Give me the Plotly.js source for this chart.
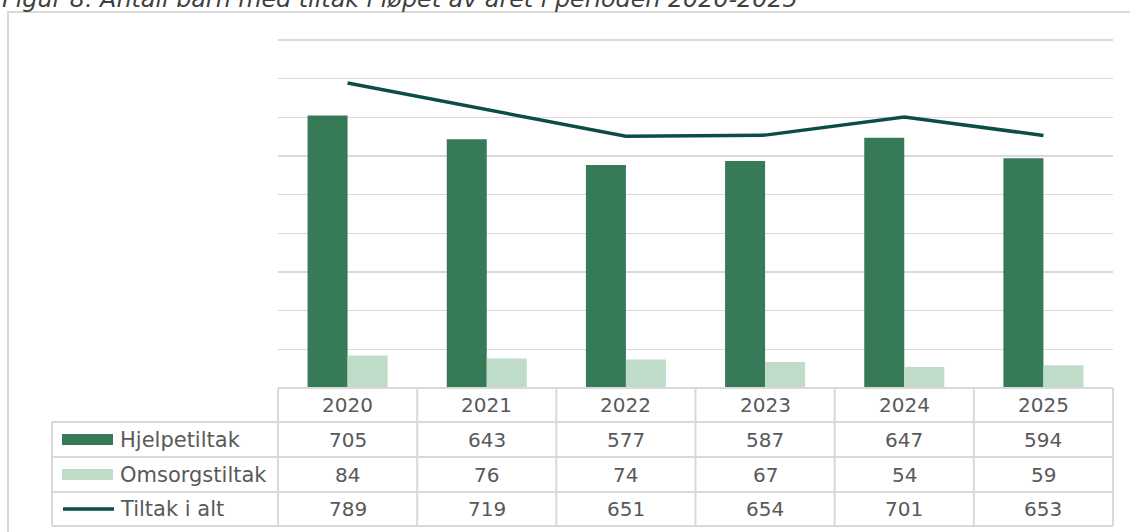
<!DOCTYPE html>
<html>
<head>
<meta charset="utf-8">
<script src="https://cdn.plot.ly/plotly-3.0.1.min.js"></script>
<style>
html,body{margin:0;padding:0;background:#fff;}
#chart{width:1130px;height:532px;}
</style>
</head>
<body>
<div id="chart"></div>
<script>
const years = ['2020', '2021', '2022', '2023', '2024', '2025'];
const hjelpetiltak = [705, 643, 577, 587, 647, 594];
const omsorgstiltak = [84, 76, 74, 67, 54, 59];
const tiltakIAlt = [789, 719, 651, 654, 701, 653];
const seriesNames = ['Hjelpetiltak', 'Omsorgstiltak', 'Tiltak i alt'];
const titleText = 'Figur 8. Antall barn med tiltak i løpet av året i perioden 2020-2025';

const W = 1130, H = 532;
const px = x => x / W;
const py = y => 1 - y / H;

const C_DARK = '#377a57';
const C_LIGHT = '#bfdcc9';
const C_LINE = '#0c4e46';
const C_GRID = '#d9d9d9';
const C_TEXT = '#595959';
const FONT = 'DejaVu Sans';

// Plot geometry (pixels)
const plotL = 278, plotR = 1113, plotB = 388;
const yMax = 904;                 // axis top slightly above 900 so the 900 gridline is drawn
const pxPerUnit = (388 - 40) / 900;
const plotT = plotB - yMax * pxPerUnit;
const rowEdges = [388, 422, 457, 492, 526];
const labelL = 52;
const colW = (plotR - plotL) / years.length;

const traces = [
  {type: 'bar', name: seriesNames[0], x: years, y: hjelpetiltak, marker: {color: C_DARK}},
  {type: 'bar', name: seriesNames[1], x: years, y: omsorgstiltak, marker: {color: C_LIGHT}},
  {type: 'scatter', mode: 'lines', name: seriesNames[2], x: years, y: tiltakIAlt, line: {color: C_LINE, width: 3.5}}
];

const shapes = [];
const annotations = [];

// outer frame
shapes.push({type: 'rect', xref: 'paper', yref: 'paper', x0: px(8), x1: px(1140), y0: py(12), y1: py(545),
  line: {color: C_GRID, width: 2}, fillcolor: 'rgba(0,0,0,0)', layer: 'below'});

// table horizontal lines
shapes.push({type: 'line', xref: 'paper', yref: 'paper', x0: px(plotL), x1: px(plotR), y0: py(rowEdges[0]), y1: py(rowEdges[0]), line: {color: C_GRID, width: 2}});
for (let i = 1; i < rowEdges.length; i++) {
  shapes.push({type: 'line', xref: 'paper', yref: 'paper', x0: px(labelL), x1: px(plotR), y0: py(rowEdges[i]), y1: py(rowEdges[i]), line: {color: C_GRID, width: 2}});
}
// table vertical lines
for (let c = 0; c <= years.length; c++) {
  const xx = plotL + c * colW;
  shapes.push({type: 'line', xref: 'paper', yref: 'paper', x0: px(xx), x1: px(xx), y0: py(rowEdges[0]), y1: py(rowEdges[4]), line: {color: C_GRID, width: 2}});
}
shapes.push({type: 'line', xref: 'paper', yref: 'paper', x0: px(labelL), x1: px(labelL), y0: py(rowEdges[1]), y1: py(rowEdges[4]), line: {color: C_GRID, width: 2}});

// header years and values
const rowsData = [hjelpetiltak, omsorgstiltak, tiltakIAlt];
years.forEach((yr, c) => {
  const cx = plotL + (c + 0.5) * colW;
  annotations.push({xref: 'paper', yref: 'paper', x: px(cx), y: py((rowEdges[0] + rowEdges[1]) / 2), text: yr,
    showarrow: false, xanchor: 'center', yanchor: 'middle', font: {family: FONT, size: 20, color: C_TEXT}});
  rowsData.forEach((arr, r) => {
    annotations.push({xref: 'paper', yref: 'paper', x: px(cx), y: py((rowEdges[r + 1] + rowEdges[r + 2]) / 2), text: String(arr[c]),
      showarrow: false, xanchor: 'center', yanchor: 'middle', font: {family: FONT, size: 20, color: C_TEXT}});
  });
});

// legend labels in table
seriesNames.forEach((nm, r) => {
  const cy = (rowEdges[r + 1] + rowEdges[r + 2]) / 2;
  annotations.push({xref: 'paper', yref: 'paper', x: px(118), y: py(cy), text: nm,
    showarrow: false, xanchor: 'left', yanchor: 'middle', font: {family: FONT, size: 21, color: C_TEXT}});
});
// legend keys
shapes.push({type: 'rect', xref: 'paper', yref: 'paper', x0: px(62), x1: px(113), y0: py(445), y1: py(434), fillcolor: C_DARK, line: {width: 0}});
shapes.push({type: 'rect', xref: 'paper', yref: 'paper', x0: px(62), x1: px(113), y0: py(480), y1: py(469), fillcolor: C_LIGHT, line: {width: 0}});
shapes.push({type: 'line', xref: 'paper', yref: 'paper', x0: px(63), x1: px(114), y0: py(509), y1: py(509), line: {color: C_LINE, width: 3.5}});

// title (cut off at top, as in the reference)
annotations.push({xref: 'paper', yref: 'paper', x: px(0), y: py(-1), text: '<i>' + titleText + '</i>',
  showarrow: false, xanchor: 'left', yanchor: 'middle', font: {family: FONT, size: 23.8, color: '#404040'}});

const layout = {
  width: W, height: H,
  margin: {l: 0, r: 0, t: 0, b: 0},
  paper_bgcolor: '#ffffff', plot_bgcolor: '#ffffff',
  showlegend: false,
  barmode: 'group', bargap: 0.425, bargroupgap: 0,
  xaxis: {domain: [px(plotL), px(plotR)], type: 'category', showticklabels: false, showgrid: false, zeroline: false, showline: false, ticks: ''},
  yaxis: {domain: [py(plotB), py(plotT)], range: [0, yMax], tickvals: [100, 200, 300, 400, 500, 600, 700, 800, 900], showticklabels: false, showgrid: true,
    gridcolor: C_GRID, gridwidth: 1.5, zeroline: false, showline: false, ticks: ''},
  shapes: shapes,
  annotations: annotations
};

Plotly.newPlot('chart', traces, layout, {displayModeBar: false, staticPlot: true});
</script>
</body>
</html>
